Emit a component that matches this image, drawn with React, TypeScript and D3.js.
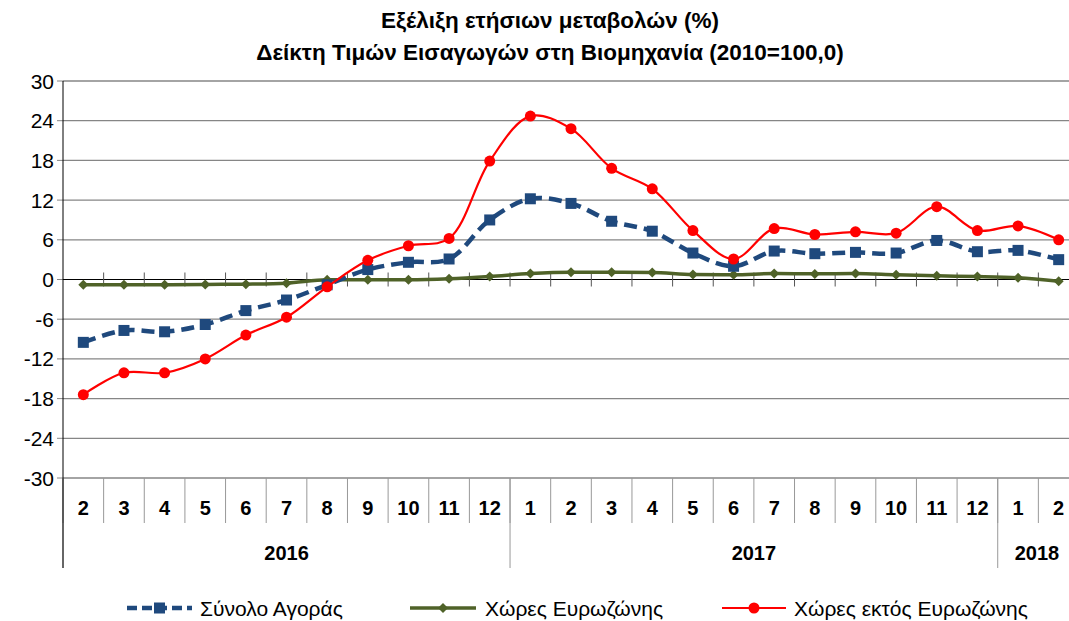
import React from 'react';
import * as d3 from 'd3';

// categories: month numbers with the year they belong to
const months = [2, 3, 4, 5, 6, 7, 8, 9, 10, 11, 12, 1, 2, 3, 4, 5, 6, 7, 8, 9, 10, 11, 12, 1, 2];
const years = [
  { label: '2016', count: 11 },
  { label: '2017', count: 12 },
  { label: '2018', count: 2 },
];

const totalMarket = [-9.5, -7.7, -7.9, -6.8, -4.7, -3.1, -0.8, 1.5, 2.6, 3.1, 9.0, 12.2, 11.5, 8.8, 7.3, 4.0,
  2.0, 4.3, 3.9, 4.1, 4.0, 5.9, 4.2, 4.4, 3.0];
const euroZone = [-0.8, -0.8, -0.8, -0.75, -0.7, -0.55, -0.05, -0.05, -0.05, 0.1, 0.45, 0.9, 1.1, 1.1, 1.05, 0.75,
  0.7, 0.9, 0.85, 0.9, 0.7, 0.55, 0.45, 0.25, -0.25];
const nonEuroZone = [-17.4, -14.1, -14.1, -12.0, -8.4, -5.7, -1.1, 2.9, 5.1, 6.2, 17.9, 24.7, 22.8, 16.8, 13.7, 7.4,
  3.1, 7.7, 6.8, 7.2, 7.0, 11.0, 7.4, 8.1, 6.0];

const yTicks = [-30, -24, -18, -12, -6, 0, 6, 12, 18, 24, 30];

const seriesNames = ['Σύνολο Αγοράς', 'Χώρες Ευρωζώνης', 'Χώρες εκτός Ευρωζώνης'];
const titleLines = ['Εξέλιξη ετήσιων μεταβολών (%)', 'Δείκτη Τιμών Εισαγωγών στη Βιομηχανία (2010=100,0)'];

const W = 1069;
const H = 621;
const left = 63;
const right = 1079;
const top = 81;
const bottom = 478;
const font = "'Liberation Sans', Arial, sans-serif";

const BLUE = '#1f497d';
const GREEN = '#4f6228';
const RED = '#ff0000';

const App = () => {
  const x = d3.scaleBand<number>().domain(d3.range(months.length)).range([left, right]);
  const y = d3.scaleLinear().domain([-30, 30]).range([bottom, top]);
  const cx = (i: number) => (x(i) as number) + x.bandwidth() / 2;

  const line = d3.line<number>()
    .x((_, i) => cx(i))
    .y(d => y(d))
    .curve(d3.curveCatmullRom.alpha(0.5));

  const straight = d3.line<number>()
    .x((_, i) => cx(i))
    .y(d => y(d))
    .curve(d3.curveMonotoneX);

  const bw = x.bandwidth();
  let acc = 0;
  const yearBounds = years.map(yr => {
    const start = acc;
    acc += yr.count;
    return { ...yr, x0: left + start * bw, x1: left + acc * bw };
  });

  const diamond = (px: number, py: number, s: number) =>
    `M${px},${py - s}L${px + s},${py}L${px},${py + s}L${px - s},${py}Z`;

  return (
    <svg width={W} height={H} style={{ position: 'absolute', left: 0, top: 0, fontFamily: font }}>
      <rect width={W} height={H} fill="#fff" />

      {titleLines.map((t, i) => (
        <text key={i} x={550} y={20 + i * 32} dy="0.35em" textAnchor="middle" fontSize={22.5} fontWeight="bold" fill="#000">
          {t}
        </text>
      ))}

      {/* gridlines */}
      {yTicks.map(t => (
        <line key={t} x1={left} x2={right} y1={y(t)} y2={y(t)}
          stroke={t === 0 ? '#000' : '#868686'} strokeWidth={t === 0 ? 1.2 : 1.3} />
      ))}
      {yTicks.map(t => (
        <g key={'l' + t}>
          <line x1={left - 6} x2={left} y1={y(t)} y2={y(t)} stroke="#868686" />
          <text x={54} y={y(t)} dy="0.36em" textAnchor="end" fontSize={21} fill="#000">{t}</text>
        </g>
      ))}

      {/* ticks on zero line */}
      {d3.range(1, months.length).map(i => (
        <line key={'z' + i} x1={left + i * bw} x2={left + i * bw} y1={y(0) - 7} y2={y(0) + 7} stroke="#555" />
      ))}

      {/* category axis */}
      {d3.range(0, months.length + 1).map(i => (
        <line key={'c' + i} x1={left + i * bw} x2={left + i * bw} y1={bottom} y2={bottom + 45} stroke="#999" />
      ))}
      {months.map((m, i) => (
        <text key={'m' + i} x={cx(i)} y={508} dy="0.36em" textAnchor="middle" fontSize={20} fontWeight="bold" fill="#000">
          {m}
        </text>
      ))}
      {yearBounds.map(yr => (
        <g key={yr.label}>
          <line x1={yr.x0} x2={yr.x0} y1={bottom} y2={568} stroke="#999" />
          <text x={yr.label === '2018' ? 1037 : (yr.x0 + yr.x1) / 2} y={553} dy="0.36em" textAnchor="middle"
            fontSize={20} fontWeight="bold" fill="#000">{yr.label}</text>
        </g>
      ))}
      <line x1={left} x2={left} y1={top} y2={568} stroke="#000" />

      {/* series */}
      <path d={straight(euroZone) ?? ''} fill="none" stroke={GREEN} strokeWidth={3.5} />
      {euroZone.map((v, i) => (
        <path key={'g' + i} d={diamond(cx(i), y(v), 5)} fill={GREEN} />
      ))}

      <path d={line(totalMarket) ?? ''} fill="none" stroke={BLUE} strokeWidth={4.5} strokeDasharray="13,7" />
      {totalMarket.map((v, i) => (
        <rect key={'b' + i} x={cx(i) - 5.5} y={y(v) - 5.5} width={11} height={11} fill={BLUE} />
      ))}

      <path d={line(nonEuroZone) ?? ''} fill="none" stroke={RED} strokeWidth={2.2} />
      {nonEuroZone.map((v, i) => (
        <circle key={'r' + i} cx={cx(i)} cy={y(v)} r={5.5} fill={RED} />
      ))}

      {/* legend */}
      <g transform="translate(0,608)">
        <line x1={127} x2={192} y1={0} y2={0} stroke={BLUE} strokeWidth={4.5} strokeDasharray="10,5" />
        <rect x={154} y={-5.5} width={11} height={11} fill={BLUE} />
        <text x={200} y={0} dy="0.36em" fontSize={21} fill="#000">{seriesNames[0]}</text>

        <line x1={410} x2={476} y1={0} y2={0} stroke={GREEN} strokeWidth={3.5} />
        <path d={diamond(443, 0, 5)} fill={GREEN} />
        <text x={485} y={0} dy="0.36em" fontSize={21} fill="#000">{seriesNames[1]}</text>

        <line x1={722} x2={786} y1={0} y2={0} stroke={RED} strokeWidth={2.2} />
        <circle cx={754} cy={0} r={5.5} fill={RED} />
        <text x={794} y={0} dy="0.36em" fontSize={21} fill="#000">{seriesNames[2]}</text>
      </g>
    </svg>
  );
};

export default App;
